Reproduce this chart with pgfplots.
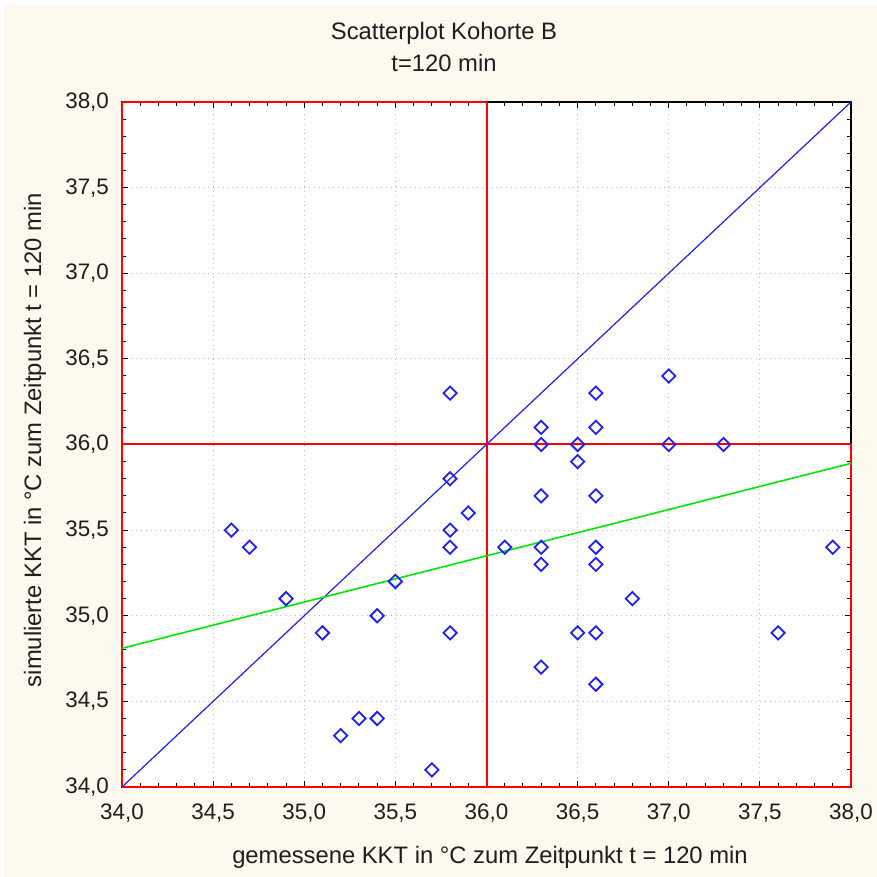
\documentclass[border=0pt]{standalone}
\usepackage{fontspec}
\setmainfont{Liberation Sans}
\usepackage{pgfplots}
\pgfplotsset{compat=1.18}
\definecolor{bg}{RGB}{253,249,238}
\definecolor{txt}{RGB}{30,30,30}
\definecolor{mred}{RGB}{255,0,0}
\definecolor{mblue}{RGB}{30,30,255}
\definecolor{mgreen}{RGB}{0,230,0}
\newcommand{\fs}{\fontsize{11.2}{13}\selectfont}
\newcommand{\fl}{\fontsize{11.9}{14}\selectfont}
\begin{document}
\begin{tikzpicture}
\useasboundingbox (-61pt,-45pt) rectangle (377.5pt,393.5pt);
\fill[white] (-61pt,-45pt) rectangle (377.5pt,393.5pt);
\fill[bg] (-59pt,-45pt) rectangle (377.5pt,391pt);
\begin{axis}[
  at={(0,0)}, anchor=south west,
  scale only axis, width=364.5pt, height=342.5pt,
  xmin=34, xmax=38, ymin=34, ymax=38,
  xtick={34,34.5,...,38}, ytick={34,34.5,...,38},
  minor tick num=4,
  tick align=inside,
  major tick length=3pt, minor tick length=1.8pt,
  every tick/.style={black, line width=0.5pt},
  grid=major,
  major grid style={gray!55, dotted, line width=0.6pt},
  axis background/.style={fill=white},
  axis line style={black, line width=0.6pt},
  clip=false,
  /pgf/number format/assume math mode=true,
  /pgf/number format/use comma,
  /pgf/number format/fixed,
  /pgf/number format/fixed zerofill,
  /pgf/number format/precision=1,
  every tick label/.append style={font=\fs, text=txt},
  xticklabel style={yshift=-5pt},
  yticklabel style={xshift=-3pt},
]
% red reference lines
\addplot[mred, line width=1pt] coordinates {(34,34) (34,38)};
\addplot[mred, line width=1pt] coordinates {(34,34) (38,34)};
\addplot[mred, line width=1pt] coordinates {(36,34) (36,38)};
\addplot[mred, line width=1pt] coordinates {(34,36) (38,36)};
\addplot[mred, line width=1pt] coordinates {(34,38) (36,38)};
\addplot[mred, line width=1pt] coordinates {(38,34) (38,36)};
% diagonal
\addplot[mblue, line width=0.6pt] coordinates {(34,34) (38,38)};
% regression
\addplot[mgreen, line width=0.8pt] coordinates {(34,34.81) (38,35.89)};
% data
\addplot[only marks, mark=square, mark size=2.35pt, mark options={rotate=45, draw=mblue, line width=0.9pt, fill=none}] coordinates {
(35.8,36.3) (35.8,35.8) (35.9,35.6) (34.6,35.5) (34.7,35.4) (35.8,35.5)
(35.8,35.4) (36.1,35.4) (35.5,35.2) (34.9,35.1) (35.4,35.0) (37.0,36.4)
(36.6,36.3) (36.3,36.1) (36.6,36.1) (36.3,36.0) (36.5,36.0) (37.0,36.0)
(37.3,36.0) (36.5,35.9) (36.3,35.7) (36.6,35.7) (36.3,35.4) (36.6,35.4)
(37.9,35.4) (36.3,35.3) (36.6,35.3) (36.8,35.1) (35.1,34.9) (35.8,34.9)
(35.3,34.4) (35.4,34.4) (35.2,34.3) (35.7,34.1) (36.5,34.9) (36.6,34.9)
(37.6,34.9) (36.3,34.7) (36.6,34.6)
};
\end{axis}
\node[font=\fl, text=txt] at (161pt,377pt) {Scatterplot Kohorte B};
\node[font=\fl, text=txt] at (161pt,362pt) {t=120 min};
\node[font=\fl, text=txt] at (184pt,-35pt) {gemessene KKT in °C zum Zeitpunkt t = 120 min};
\node[font=\fl, text=txt, rotate=90] at (-43.5pt,173.5pt) {simulierte KKT in °C zum Zeitpunkt t = 120 min};
\end{tikzpicture}
\end{document}
